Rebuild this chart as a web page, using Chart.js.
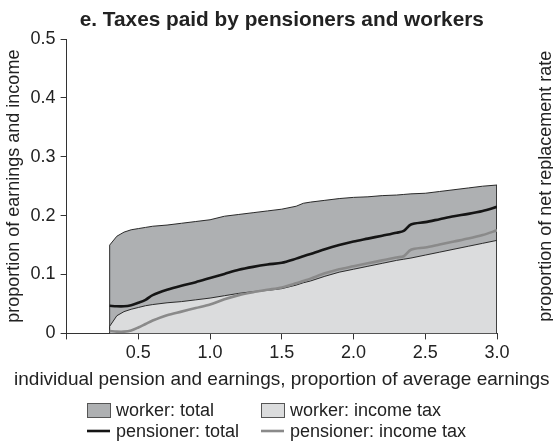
<!DOCTYPE html>
<html>
<head>
<meta charset="utf-8">
<script src="https://cdn.jsdelivr.net/npm/chart.js@4"></script>
<style>
html,body{margin:0;padding:0;background:#fff;}
#wrap{width:553px;height:443px;position:relative;}
</style>
</head>
<body>
<div id="wrap"><canvas id="c" width="553" height="443"></canvas></div>
<script>
const xValues = [0.3,0.35,0.4,0.45,0.5,0.55,0.6,0.7,0.8,0.9,1.0,1.1,1.2,1.3,1.4,1.5,1.6,1.65,1.7,1.8,1.9,2.0,2.1,2.2,2.3,2.35,2.4,2.5,2.6,2.7,2.8,2.9,3.0];
const workerTotal = [0.150,0.165,0.172,0.176,0.178,0.180,0.182,0.184,0.187,0.190,0.193,0.199,0.202,0.205,0.208,0.211,0.216,0.221,0.223,0.226,0.229,0.231,0.232,0.234,0.235,0.236,0.237,0.238,0.241,0.244,0.247,0.250,0.252];
const workerIncomeTax = [0.012,0.030,0.037,0.041,0.044,0.047,0.049,0.052,0.054,0.057,0.060,0.064,0.068,0.071,0.073,0.076,0.082,0.086,0.089,0.097,0.104,0.109,0.114,0.119,0.124,0.126,0.128,0.133,0.138,0.143,0.148,0.153,0.158];
const pensionerTotal = [0.047,0.046,0.046,0.048,0.052,0.057,0.065,0.074,0.081,0.087,0.094,0.101,0.108,0.113,0.117,0.120,0.127,0.131,0.135,0.143,0.150,0.156,0.161,0.166,0.171,0.174,0.185,0.189,0.194,0.199,0.203,0.208,0.215];
const pensionerIncomeTax = [0.004,0.003,0.003,0.005,0.010,0.016,0.022,0.031,0.037,0.043,0.049,0.058,0.065,0.070,0.074,0.078,0.085,0.089,0.093,0.102,0.109,0.114,0.119,0.124,0.129,0.131,0.142,0.146,0.151,0.156,0.161,0.167,0.175];
const xTicks = [0.5,1.0,1.5,2.0,2.5,3.0];
const yTicks = [0,0.1,0.2,0.3,0.4,0.5];
const seriesNames = ['worker: total','worker: income tax','pensioner: total','pensioner: income tax'];
const titleText = 'e. Taxes paid by pensioners and workers';
const xAxisTitle = 'individual pension and earnings, proportion of average earnings';
const yAxisTitle = 'proportion of earnings and income';
const neighbourAxisTitle = 'proportion of net replacement rate';

const FONT = "'Liberation Sans', Arial, Helvetica, sans-serif";
const TXT = '#222';
const C_DARK = '#aeb0b2', C_LIGHT = '#dbdcdd', C_EDGE = '#2a2a2a', C_BLACK = '#151515', C_GREY = '#8a8a8a';

// area series closed down to zero at both ends (vertical edges)
function closedArea(vals){
  const pts = [{x:xValues[0], y:0}];
  xValues.forEach((x,i)=>pts.push({x:x, y:vals[i]}));
  pts.push({x:xValues[xValues.length-1], y:0});
  return pts;
}
function line(vals){ return xValues.map((x,i)=>({x:x,y:vals[i]})); }

const decorPlugin = {
  id:'decor',
  afterDraw(chart){
    const ctx = chart.ctx, ca = chart.chartArea;
    const cx = (ca.left+ca.right)/2;
    ctx.save();
    ctx.fillStyle = TXT;
    ctx.textAlign = 'center';
    ctx.textBaseline = 'alphabetic';
    // title centred over the plot area
    ctx.font = 'bold 20.8px ' + FONT;
    ctx.fillText(titleText, cx, 26);
    // x axis title (wider than the axis, so drawn here without compression)
    ctx.font = '19px ' + FONT;
    ctx.fillText(xAxisTitle, cx, 385);

    // legend (2 x 2)
    ctx.textAlign = 'left';
    ctx.textBaseline = 'middle';
    ctx.font = '18px ' + FONT;
    const rows = [410, 431];
    const cols = [87, 261];
    const items = [
      {t:seriesNames[0], kind:'box', fill:C_DARK, r:0, c:0},
      {t:seriesNames[1], kind:'box', fill:C_LIGHT, r:0, c:1},
      {t:seriesNames[2], kind:'line', color:C_BLACK, w:2.6, r:1, c:0},
      {t:seriesNames[3], kind:'line', color:C_GREY, w:2.6, r:1, c:1}
    ];
    items.forEach(it=>{
      const x = cols[it.c], y = rows[it.r];
      if(it.kind==='box'){
        ctx.fillStyle = it.fill;
        ctx.fillRect(x+0.5, y-7+0.5, 23, 14);
        ctx.strokeStyle = '#555'; ctx.lineWidth = 1;
        ctx.strokeRect(x+0.5, y-7+0.5, 23, 14);
      } else {
        ctx.strokeStyle = it.color; ctx.lineWidth = it.w;
        ctx.beginPath(); ctx.moveTo(x, y); ctx.lineTo(x+23, y); ctx.stroke();
      }
      ctx.fillStyle = TXT;
      ctx.fillText(it.t, x+29, y+1);
    });

    // clipped axis title of the neighbouring panel
    ctx.translate(551, (ca.top+ca.bottom)/2);
    ctx.rotate(-Math.PI/2);
    ctx.textAlign = 'center';
    ctx.textBaseline = 'alphabetic';
    ctx.font = '18px ' + FONT;
    ctx.fillText(neighbourAxisTitle, 0, 0);
    ctx.restore();
  }
};

new Chart(document.getElementById('c'), {
  type:'line',
  data:{
    datasets:[
      {label:seriesNames[2], data:line(pensionerTotal), borderColor:C_BLACK, borderWidth:2.6, fill:false, pointRadius:0, tension:0.3, order:1},
      {label:seriesNames[3], data:line(pensionerIncomeTax), borderColor:C_GREY, borderWidth:2.6, fill:false, pointRadius:0, tension:0.3, order:2},
      {label:seriesNames[1], data:closedArea(workerIncomeTax), borderColor:C_EDGE, borderWidth:1, backgroundColor:C_LIGHT, fill:'origin', pointRadius:0, tension:0, order:3},
      {label:seriesNames[0], data:closedArea(workerTotal), borderColor:C_EDGE, borderWidth:1, backgroundColor:C_DARK, fill:'origin', pointRadius:0, tension:0, order:4}
    ]
  },
  options:{
    responsive:false,
    animation:false,
    layout:{padding:{left:3, right:56, top:39, bottom:76}},
    plugins:{
      legend:{display:false},
      tooltip:{enabled:false},
      title:{display:false}
    },
    scales:{
      x:{type:'linear', min:0, max:3,
        afterBuildTicks(ax){ ax.ticks = [{value:0}].concat(xTicks.map(v=>({value:v}))); },
        ticks:{color:TXT, font:{family:FONT,size:18}, padding:3, callback:v=> v===0 ? '' : v.toFixed(1), maxRotation:0, autoSkip:false},
        grid:{drawOnChartArea:false, drawTicks:true, tickLength:6, color:'#333', lineWidth:1},
        border:{display:true, color:'#333', width:1},
        title:{display:false}
      },
      y:{type:'linear', min:0, max:0.5,
        afterBuildTicks(ax){ ax.ticks = yTicks.map(v=>({value:v})); },
        ticks:{color:TXT, font:{family:FONT,size:18}, padding:5, callback:v=> v===0 ? '0' : String(+v.toFixed(1))},
        grid:{drawOnChartArea:false, drawTicks:true, tickLength:6, color:'#333', lineWidth:1},
        border:{display:true, color:'#333', width:1},
        title:{display:true, text:yAxisTitle, color:TXT, font:{family:FONT,size:18}, padding:{top:0,bottom:1}}
      }
    }
  },
  plugins:[decorPlugin]
});
</script>
</body>
</html>
